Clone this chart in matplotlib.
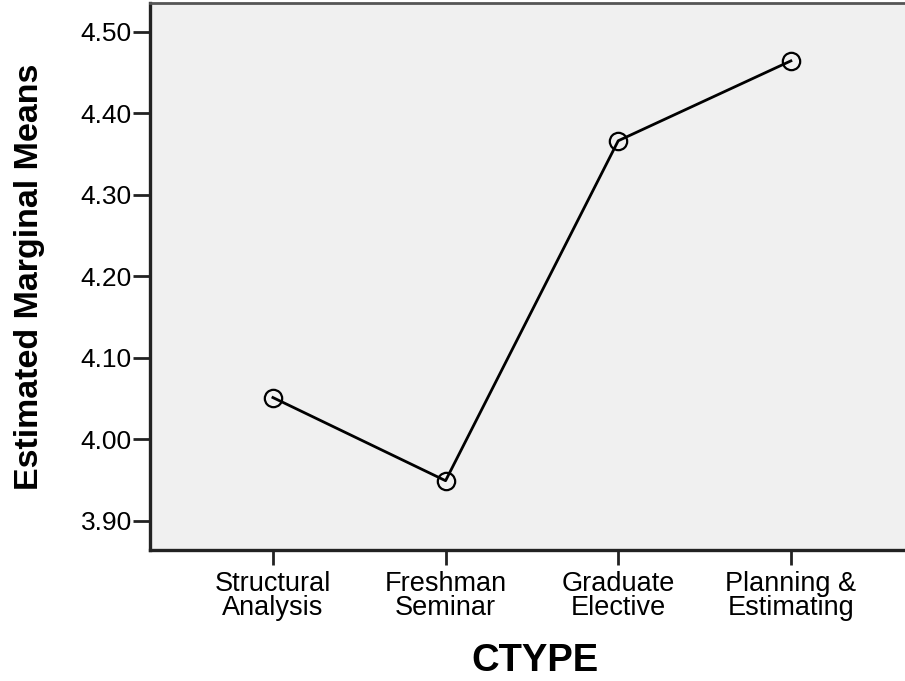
import matplotlib
matplotlib.use("Agg")
import matplotlib.pyplot as plt

categories = ["Structural\nAnalysis", "Freshman\nSeminar", "Graduate\nElective", "Planning &\nEstimating"]
means = [4.051, 3.949, 4.366, 4.464]
yticks = [3.90, 4.00, 4.10, 4.20, 4.30, 4.40, 4.50]

plt.rcParams['font.family'] = ['Liberation Sans', 'DejaVu Sans']

fig = plt.figure(figsize=(9.05, 6.81), dpi=100)
W, H = 905, 681
ax = fig.add_axes([150 / W, 1 - 550 / H, (910 - 150) / W, (550 - 3) / H])
ax.set_facecolor('#f0f0f0')

x = list(range(1, len(categories) + 1))
ax.plot(x, means, color='black', linewidth=2.0, marker='o', markersize=12.5,
        markerfacecolor='none', markeredgecolor='black', markeredgewidth=1.6)

ax.set_xlim(0.288, 4.69)
ax.set_ylim(3.864, 4.535)
ax.set_yticks(yticks)
ax.set_yticklabels([f"{v:.2f}" for v in yticks])
ax.set_xticks(x)
ax.set_xticklabels(categories, linespacing=0.92)

ax.tick_params(axis='y', labelsize=19, length=12, width=2, color='#222222', pad=1)
ax.tick_params(axis='x', labelsize=19.5, length=11, width=2, color='#222222', pad=4)

for s in ['left', 'bottom']:
    ax.spines[s].set_linewidth(2.4)
    ax.spines[s].set_color('#222222')
ax.spines['top'].set_color('#555555')
ax.spines['top'].set_linewidth(2)
ax.spines['right'].set_visible(False)

fig.text(30 / W, 1 - 277 / H, "Estimated Marginal Means", rotation=90, ha='center', va='center',
         fontsize=24.5, fontweight='bold')
fig.text(535 / W, 1 - 661 / H, "CTYPE", ha='center', va='center', fontsize=27.5, fontweight='bold')

fig.savefig("out.png", dpi=100)
